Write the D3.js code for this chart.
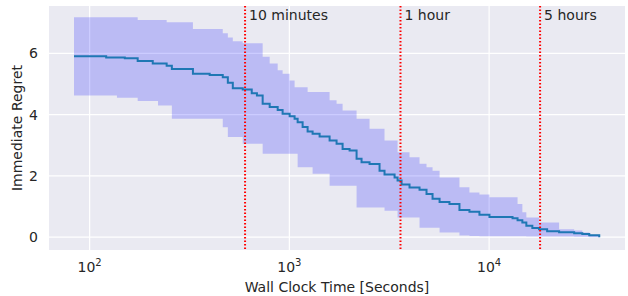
<!DOCTYPE html>
<html>
<head>
<meta charset="utf-8">
<script src="https://cdn.jsdelivr.net/npm/d3@7"></script>
<style>
  body { margin: 0; background: #fff; }
  svg { display: block; font-family: "DejaVu Sans", sans-serif; }
</style>
</head>
<body>
<main></main>
<script>
(function () {

    // wall clock time in seconds, with mean regret and the band around it
    var times = [83.5, 121, 137, 150, 174, 207, 220, 243, 258, 329, 399, 464, 492, 521, 584, 648, 688,
                 735, 797, 874, 925, 1003, 1062, 1100, 1165, 1234, 1307, 1417, 1590, 1723, 1847, 2002,
                 2170, 2298, 2520, 2828, 2995, 3363, 3481, 3645, 3995, 4484, 4860, 5210, 5650, 6331,
                 7104, 7970, 8944, 10040, 13100, 13880, 14670, 15360, 16460, 17780, 19520, 22410,
                 26660, 29280, 31720, 35600],
        mean = [5.91, 5.87, 5.87, 5.84, 5.75, 5.67, 5.67, 5.60, 5.49, 5.34, 5.30, 5.22, 5.04, 4.86, 4.82, 4.70, 4.63,
                4.36, 4.25, 4.15, 4.03, 3.95, 3.87, 3.75, 3.60, 3.45, 3.38, 3.29, 3.16, 3.05, 2.88, 2.83,
                2.56, 2.45, 2.39, 2.17, 2.05, 1.95, 1.85, 1.72, 1.62, 1.55, 1.41, 1.25, 1.15, 1.08,
                0.89, 0.83, 0.73, 0.66, 0.62, 0.55, 0.48, 0.37, 0.30, 0.26, 0.19, 0.16,
                0.13, 0.10, 0.06, 0.0],
        upper = [7.18, 7.18, 7.18, 7.18, 7.09, 7.09, 7.09, 7.02, 7.02, 6.80, 6.80, 6.66, 6.52, 6.40, 6.33, 6.33, 6.33,
                 5.89, 5.67, 5.45, 5.34, 5.12, 4.90, 4.90, 4.90, 4.74, 4.74, 4.74, 4.47, 4.36, 4.14, 4.14,
                 3.87, 3.87, 3.54, 3.54, 3.16, 3.16, 2.77, 2.77, 2.61, 2.40, 2.28, 2.17, 1.95, 1.95,
                 1.63, 1.46, 1.39, 1.30, 1.30, 1.08, 0.81, 0.64, 0.64, 0.48, 0.48, 0.26,
                 0.22, 0.15, 0.08, 0.0],
        lower = [4.63, 4.63, 4.55, 4.55, 4.45, 4.45, 4.30, 4.30, 3.87, 3.87, 3.87, 3.59, 3.27, 3.27, 3.05, 3.05, 3.05,
                 2.72, 2.72, 2.72, 2.72, 2.72, 2.72, 2.28, 2.28, 2.28, 2.07, 2.07, 1.68, 1.68, 1.68, 1.68,
                 0.97, 0.97, 0.97, 0.97, 0.86, 0.86, 0.64, 0.64, 0.64, 0.31, 0.31, 0.31, 0.15, 0.15,
                 0.05, 0.04, 0.03, 0.03, 0.03, 0.03, 0.03, 0.02, 0.02, 0.02, 0.02, 0.02,
                 0.01, 0.01, 0.0, 0.0];

    var yTicks = [0, 2, 4, 6],
        xTicks = [100, 1000, 10000],
        markers = [{t: 600, label: "10 minutes"},
                   {t: 3600, label: "1 hour"},
                   {t: 18000, label: "5 hours"}];

    var width = 628, height = 296,
        margin = {top: 6, right: 3, bottom: 46, left: 49},
        fs = 14;

    var svg = d3.select("main").append("svg")
            .attr("width", width)
            .attr("height", height);

    var x = d3.scaleLog()
            .domain([62.6, 47900])
            .range([margin.left, width - margin.right]),
        y = d3.scaleLinear()
            .domain([-0.42, 7.55])
            .range([height - margin.bottom, margin.top]);

    var rows = times.map(function (t, i) {
        return {t: t, m: mean[i], u: upper[i], l: lower[i]};
    });

    // background + grid
    svg.append("rect")
        .attr("x", margin.left)
        .attr("y", margin.top)
        .attr("width", width - margin.left - margin.right)
        .attr("height", height - margin.top - margin.bottom)
        .attr("fill", "#eaeaf2");

    svg.append("g").selectAll("line").data(xTicks).join("line")
        .attr("x1", function (d) { return x(d); })
        .attr("x2", function (d) { return x(d); })
        .attr("y1", margin.top)
        .attr("y2", height - margin.bottom)
        .attr("stroke", "#fff")
        .attr("stroke-width", 1.2);

    svg.append("g").selectAll("line").data(yTicks).join("line")
        .attr("x1", margin.left)
        .attr("x2", width - margin.right)
        .attr("y1", function (d) { return y(d); })
        .attr("y2", function (d) { return y(d); })
        .attr("stroke", "#fff")
        .attr("stroke-width", 1.2);

    // band
    svg.append("path")
        .datum(rows)
        .attr("fill", "blue")
        .attr("fill-opacity", 0.2)
        .attr("d", d3.area()
            .curve(d3.curveStepAfter)
            .x(function (d) { return x(d.t); })
            .y0(function (d) { return y(d.l); })
            .y1(function (d) { return y(d.u); }));

    // mean line
    svg.append("path")
        .datum(rows)
        .attr("fill", "none")
        .attr("stroke", "#1f77b4")
        .attr("stroke-width", 2)
        .attr("d", d3.line()
            .curve(d3.curveStepAfter)
            .x(function (d) { return x(d.t); })
            .y(function (d) { return y(d.m); }));

    // time markers
    var mk = svg.append("g").selectAll("g").data(markers).join("g");
    mk.append("line")
        .attr("x1", function (d) { return x(d.t); })
        .attr("x2", function (d) { return x(d.t); })
        .attr("y1", margin.top)
        .attr("y2", height - margin.bottom)
        .attr("stroke", "red")
        .attr("stroke-width", 2)
        .attr("stroke-dasharray", "1.5,2");
    mk.append("text")
        .attr("x", function (d) { return x(d.t) + 4; })
        .attr("y", 20)
        .attr("font-size", fs)
        .attr("fill", "#262626")
        .text(function (d) { return d.label; });

    // y ticks
    svg.append("g").selectAll("text").data(yTicks).join("text")
        .attr("x", 38)
        .attr("y", function (d) { return y(d); })
        .attr("dy", "0.35em")
        .attr("text-anchor", "end")
        .attr("font-size", fs)
        .attr("fill", "#262626")
        .text(function (d) { return d; });

    // x ticks as 10^n
    var xt = svg.append("g").selectAll("text").data(xTicks).join("text")
        .attr("x", function (d) { return x(d); })
        .attr("y", 272)
        .attr("text-anchor", "middle")
        .attr("font-size", fs)
        .attr("fill", "#262626");
    xt.append("tspan").text("10");
    xt.append("tspan")
        .attr("dy", -6)
        .attr("font-size", 10)
        .text(function (d) { return Math.round(Math.log10(d)); });

    // axis labels
    svg.append("text")
        .attr("x", (margin.left + width - margin.right) / 2)
        .attr("y", 292)
        .attr("text-anchor", "middle")
        .attr("font-size", fs)
        .attr("fill", "#262626")
        .text("Wall Clock Time [Seconds]");

    svg.append("text")
        .attr("transform", "translate(22," + (margin.top + height - margin.bottom) / 2 + ") rotate(-90)")
        .attr("text-anchor", "middle")
        .attr("font-size", fs)
        .attr("fill", "#262626")
        .text("Immediate Regret");

})();
</script>
</body>
</html>
